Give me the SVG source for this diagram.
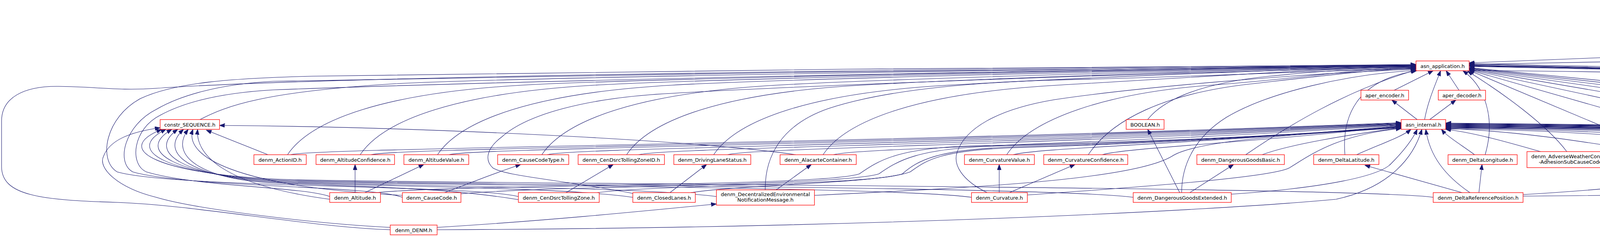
<svg xmlns="http://www.w3.org/2000/svg" width="7681" height="604" viewBox="0 0 7681 604">
<defs>
<marker id="a" markerWidth="14" markerHeight="11" refX="13.5" refY="5" orient="auto" markerUnits="userSpaceOnUse"><path d="M0,0 L13.5,5 L0,10 Z" fill="#191970" stroke="#191970" stroke-width="1"/></marker>
</defs>
<style>
.e path{fill:none;stroke:#191970;stroke-width:1.1;marker-end:url(#a)}
.n rect{fill:#fff;stroke:#ff0000;stroke-width:1.3}
.k rect{fill:#fff;stroke:#333;stroke-width:1.3}
.g rect{fill:#bfbfbf;stroke:#000;stroke-width:1.3}
text{font-family:"DejaVu Sans","Liberation Sans",sans-serif;font-size:13px;text-anchor:middle;fill:#000}
</style>
<rect width="7681" height="604" fill="#fff"/>
<g id="edges" class="e">
<path d="M7342,81 L7342,31"/>
<path d="M7614,396 C7580,340 7557,300 7557,250 L7557,170 C7557,100 7480,60 7398,33"/>
<path d="M7342,396 L7342,106"/>
<path d="M7485,396 L7351,106"/>
<path d="M3761,165 L7285,97"/>
<path d="M7289,22 L3761,161"/>
<path d="M3569,231 L3669,181"/>
<path d="M3735,231 L3702,181"/>
<path d="M3628,306 L3563,256"/>
<path d="M3660,306 L3727,256"/>
<path d="M3647,306 C3655,260 3675,215 3688,181"/>
<path d="M5802,240 C5400,215 4400,185 3761,166"/>
<path d="M6056,238 C5650,210 4500,183 3761,164"/>
<path d="M6227,238 C5850,208 4600,180 3761,163"/>
<path d="M5889,306 L5872,256"/>
<path d="M5909,306 C5955,285 5965,240 5900,228 C5500,205 4500,186 3761,167"/>
<path d="M6203,396 L5952,331"/>
<path d="M512,306 C580,270 680,235 1000,215 S3400,168 3625,166"/>
<path d="M736,396 C796,306 986,238 1336,218 S3400,169 3625,167"/>
<path d="M922,396 C982,306 1172,238 1522,218 S3400,170 3625,168"/>
<path d="M1120,396 C1180,306 1370,238 1720,218 S3400,171 3625,169"/>
<path d="M1387,396 C1447,306 1637,238 1987,218 S3400,172 3625,170"/>
<path d="M1604,396 C1664,306 1854,238 2204,218 S3400,172 3625,170"/>
<path d="M1827,396 C1887,306 2077,238 2427,218 S3400,173 3625,171"/>
<path d="M2107,396 C2167,306 2357,238 2707,218 S3400,174 3625,172"/>
<path d="M2577,396 C2637,306 2827,238 3100,218 S3450,176 3625,173"/>
<path d="M2786,396 C2846,306 2980,240 3200,215 S3500,180 3625,174"/>
<path d="M2938,306 C2970,265 3050,215 3250,195 S3500,178 3625,175"/>
<path d="M3189,396 C3300,320 3450,230 3625,179"/>
<path d="M3443,396 C3435,300 3470,205 3627,181"/>
<path d="M1620,495 C1450,462 1300,452 1262,430 C1240,410 1245,380 1285,350 C1350,292 1500,252 1700,240 C2000,222 2800,190 3625,172"/>
<path d="M1959,486 C1958,400 2000,320 2120,278 C2250,235 2450,212 2700,205 C3100,195 3400,180 3625,176"/>
<path d="M2527,493 C2460,460 2440,420 2450,390 C2470,330 2550,280 2700,255 C2900,225 3300,190 3625,177"/>
<path d="M3025,493 C3025,420 3060,350 3140,300 C3250,235 3450,190 3625,180"/>
<path d="M844,503 C780,478 500,478 375,440 C330,420 340,330 410,295 C470,262 560,238 700,230 C1500,200 3000,175 3625,168"/>
<path d="M1030,505 C950,474 480,480 340,440 C295,415 320,320 400,280 C460,245 560,215 700,208 C1500,190 3000,172 3625,167"/>
<path d="M1327,503 C1200,472 450,482 300,440 C250,410 270,300 360,252 C450,210 600,200 800,195 C1500,180 3000,170 3625,166"/>
<path d="M999,588 C800,582 500,525 300,518 C100,512 4,500 4,426 L4,310 C4,250 60,220 150,221 C250,222 300,233 400,226 C700,205 1500,185 3625,165"/>
<path d="M999,582 C800,572 500,535 400,505 C300,480 250,430 265,400 C280,360 330,338 410,327"/>
<path d="M844,510 C560,472 500,390 506,331"/>
<path d="M1030,500 C600,478 470,400 494,331"/>
<path d="M1327,511 C1127,478 900,478 700,468 C520,460 430,400 482,331"/>
<path d="M1620,505 C1420,476 900,478 700,466 C500,456 400,395 470,331"/>
<path d="M1834,503 C1634,476 900,476 700,464 C480,452 370,392 455,331"/>
<path d="M2487,505 C2287,476 900,474 700,462 C460,448 340,390 440,331"/>
<path d="M2901,505 C2701,476 900,472 700,460 C440,446 310,388 425,331"/>
<path d="M3669,505 C3469,476 900,470 700,458 C420,444 280,386 414,331"/>
<path d="M686,396 L528,333"/>
<path d="M2037,396 C1800,360 1100,325 562,321"/>
<path d="M909,493 L909,421"/>
<path d="M934,493 L1085,421"/>
<path d="M1138,493 C1200,470 1260,445 1333,421"/>
<path d="M1449,493 L1570,421"/>
<path d="M1715,493 L1809,421"/>
<path d="M1987,486 L2077,421"/>
<path d="M2558,493 L2558,421"/>
<path d="M2584,493 L2752,421"/>
<path d="M3046,493 L3158,421"/>
<path d="M3020,493 L2938,331"/>
<path d="M3743,493 L3494,423"/>
<path d="M3786,493 L3794,421"/>
<path d="M3899,498 C4200,480 4450,450 4495,421"/>
<path d="M3763,493 C3700,450 3660,400 3650,331"/>
<path d="M3775,396 C3740,370 3705,350 3690,331"/>
<path d="M3473,396 C3530,370 3590,350 3612,331"/>
<path d="M3231,396 C3300,370 3450,345 3587,327"/>
<path d="M3802,396 C3830,300 3800,220 3745,181"/>
<path d="M3899,502 C4800,495 5600,470 6060,445 C6130,430 6125,385 6060,374 C5950,368 5830,370 5790,330 C5760,290 5770,240 5700,225 C5000,200 4300,185 3761,180"/>
<path d="M1118,582 C1400,565 1650,540 1834,522"/>
<path d="M1118,588 C2200,584 3100,540 3420,510 C3560,480 3620,400 3640,331"/>
<path d="M964,493 C1200,470 2100,478 2200,445 C2250,410 2300,378 2500,373 C2900,366 3350,345 3587,323"/>
<path d="M1180,496 C1400,475 2150,476 2250,445 C2300,410 2350,380 2550,374 C2950,366 3350,344 3587,324"/>
<path d="M1529,493 C1700,472 2220,474 2310,445 C2350,410 2400,382 2600,376 C3000,366 3350,343 3587,325"/>
<path d="M1768,493 C1900,472 2250,470 2330,440 C2370,412 2400,385 2600,378 C3000,366 3350,342 3587,326"/>
<path d="M2085,500 C2500,480 2900,460 3000,400 C3060,360 3300,345 3587,327"/>
<path d="M2630,499 C2900,480 3250,455 3300,430 C3350,400 3420,345 3587,329"/>
<path d="M3152,497 C3400,480 3530,450 3560,420 C3590,390 3615,360 3628,331"/>
<path d="M744,396 C804,378 2165,370 3587,314"/>
<path d="M950,396 C1010,378 2268,370 3587,315"/>
<path d="M1150,396 C1210,378 2368,370 3587,316"/>
<path d="M1401,396 C1461,378 2494,370 3587,317"/>
<path d="M1635,396 C1695,378 2611,370 3587,318"/>
<path d="M1863,396 C1923,378 2725,370 3587,319"/>
<path d="M2134,396 C2194,378 2860,370 3587,320"/>
<path d="M2594,396 C2654,378 3090,368 3587,321"/>
<path d="M2822,396 C2882,378 3204,366 3587,322"/>
<path d="M4011,388 C3960,320 3850,240 3757,182"/>
<path d="M4240,381 L3761,180"/>
<path d="M4521,396 L3761,179"/>
<path d="M4738,388 L3761,178"/>
<path d="M4996,388 L3761,177"/>
<path d="M5248,388 L3761,176"/>
<path d="M5482,388 L3761,175"/>
<path d="M5716,388 L3761,174"/>
<path d="M5958,388 L3761,173"/>
<path d="M6407,396 C6250,320 6050,240 5800,222 C5300,205 4400,180 3761,170"/>
<path d="M6626,396 C6560,320 6450,250 6200,225 C5500,200 4400,180 3761,169"/>
<path d="M6871,396 C6750,320 6550,245 6200,220 C5500,200 4400,180 3761,168"/>
<path d="M7111,396 C6900,330 6600,240 6200,215 C5500,198 4400,178 3761,167"/>
<path d="M3944,388 C3880,370 3780,340 3701,331"/>
<path d="M4169,381 C4050,362 3880,335 3701,329"/>
<path d="M4502,396 C4420,365 4050,332 3701,330"/>
<path d="M4676,388 C4476,360 4091,330 3701,328"/>
<path d="M4933,388 C4733,360 4194,330 3701,327"/>
<path d="M5189,388 C4989,360 4296,330 3701,326"/>
<path d="M5430,388 C5230,360 4393,330 3701,325"/>
<path d="M5659,388 C5459,360 4484,330 3701,324"/>
<path d="M5903,388 C5703,360 4582,330 3701,323"/>
<path d="M6193,396 C5993,368 4698,330 3701,322"/>
<path d="M6384,396 C6184,368 4774,330 3701,321"/>
<path d="M6604,396 C6404,368 4862,330 3701,320"/>
<path d="M6851,396 C6651,368 4961,330 3701,319"/>
<path d="M7089,396 C6889,368 5056,330 3701,318"/>
<path d="M7314,396 C7114,368 5146,330 3701,317"/>
<path d="M7467,396 C7267,368 5207,330 3701,316"/>
<path d="M7600,396 C7400,368 5260,330 3701,315"/>
</g>
<g id="n_constraints_h" class="g"><rect x="7289" y="6" width="107" height="25"/><text x="7342.5" y="23.5">constraints.h</text></g>
<g id="n_constr_TYPE_h" class="k"><rect x="7285" y="81" width="114" height="25"/><text x="7342" y="98.5">constr_TYPE.h</text></g>
<g id="n_asn_application_h" class="n"><rect x="3625" y="156" width="136" height="25"/><text x="3693" y="173.5">asn_application.h</text></g>
<g id="n_aper_encoder_h" class="n"><rect x="3484" y="231" width="122" height="25"/><text x="3545" y="248.5">aper_encoder.h</text></g>
<g id="n_aper_decoder_h" class="n"><rect x="3682" y="231" width="121" height="25"/><text x="3742.5" y="248.5">aper_decoder.h</text></g>
<g id="n_constr_SET_OF_h" class="n"><rect x="5802" y="231" width="128" height="25"/><text x="5866" y="248.5">constr_SET_OF.h</text></g>
<g id="n_asn_codecs_prim_h" class="n"><rect x="6056" y="231" width="146" height="25"/><text x="6129" y="248.5">asn_codecs_prim.h</text></g>
<g id="n_constr_CHOICE_h" class="n"><rect x="6227" y="231" width="130" height="25"/><text x="6292" y="248.5">constr_CHOICE.h</text></g>
<g id="n_constr_SEQUENCE_h" class="n"><rect x="410" y="306" width="152" height="25"/><text x="486" y="323.5">constr_SEQUENCE.h</text></g>
<g id="n_BOOLEAN_h" class="n"><rect x="2883" y="306" width="97" height="25"/><text x="2931.5" y="323.5">BOOLEAN.h</text></g>
<g id="n_asn_internal_h" class="n"><rect x="3587" y="306" width="114" height="25"/><text x="3644" y="323.5">asn_internal.h</text></g>
<g id="n_constr_SEQUENCE_OF_h" class="n"><rect x="5806" y="306" width="174" height="25"/><text x="5893" y="323.5">constr_SEQUENCE_OF.h</text></g>
<g id="n_ActionID" class="n"><rect x="650" y="396" width="134" height="25"/><text x="717" y="413.5">denm_ActionID.h</text></g>
<g id="n_AltitudeConfidence" class="n"><rect x="809" y="396" width="201" height="25"/><text x="909.5" y="413.5">denm_AltitudeConfidence.h</text></g>
<g id="n_AltitudeValue" class="n"><rect x="1034" y="396" width="166" height="25"/><text x="1117" y="413.5">denm_AltitudeValue.h</text></g>
<g id="n_CauseCodeType" class="n"><rect x="1274" y="396" width="182" height="25"/><text x="1365" y="413.5">denm_CauseCodeType.h</text></g>
<g id="n_CenDsrcTollingZoneID" class="n"><rect x="1480" y="396" width="221" height="25"/><text x="1590.5" y="413.5">denm_CenDsrcTollingZoneID.h</text></g>
<g id="n_DrivingLaneStatus" class="n"><rect x="1725" y="396" width="197" height="25"/><text x="1823.5" y="413.5">denm_DrivingLaneStatus.h</text></g>
<g id="n_AlacarteContainer" class="n"><rect x="1997" y="396" width="195" height="25"/><text x="2094.5" y="413.5">denm_AlacarteContainer.h</text></g>
<g id="n_CurvatureValue" class="n"><rect x="2469" y="396" width="179" height="25"/><text x="2558.5" y="413.5">denm_CurvatureValue.h</text></g>
<g id="n_CurvatureConfidence" class="n"><rect x="2672" y="396" width="215" height="25"/><text x="2779.5" y="413.5">denm_CurvatureConfidence.h</text></g>
<g id="n_DangerousGoodsBasic" class="n"><rect x="3064" y="396" width="224" height="25"/><text x="3176" y="413.5">denm_DangerousGoodsBasic.h</text></g>
<g id="n_DeltaLatitude" class="n"><rect x="3363" y="396" width="167" height="25"/><text x="3446.5" y="413.5">denm_DeltaLatitude.h</text></g>
<g id="n_DeltaLongitude" class="n"><rect x="3707" y="396" width="177" height="25"/><text x="3795.5" y="413.5">denm_DeltaLongitude.h</text></g>
<g id="n_AWC_Adhesion" class="n"><rect x="3909" y="388" width="235" height="41"/><text x="4026.5" y="404.5">denm_AdverseWeatherCondition</text><text x="4026.5" y="419">-AdhesionSubCauseCode.h</text></g>
<g id="n_AWC_Extreme" class="n"><rect x="4169" y="381" width="262" height="55"/><text x="4300" y="397">denm_AdverseWeatherCondition</text><text x="4300" y="411.5">-ExtremeWeatherConditionSubCause</text><text x="4300" y="426">Code.h</text></g>
<g id="n_DeltaAltitude" class="n"><rect x="4455" y="396" width="164" height="25"/><text x="4537" y="413.5">denm_DeltaAltitude.h</text></g>
<g id="n_AWC_Precipitation" class="n"><rect x="4644" y="388" width="234" height="41"/><text x="4761" y="404.5">denm_AdverseWeatherCondition</text><text x="4761" y="419">-PrecipitationSubCauseCode.h</text></g>
<g id="n_AWC_Visibility" class="n"><rect x="4902" y="388" width="235" height="41"/><text x="5019.5" y="404.5">denm_AdverseWeatherCondition</text><text x="5019.5" y="419">-VisibilitySubCauseCode.h</text></g>
<g id="n_CollisionRisk" class="n"><rect x="5162" y="388" width="214" height="41"/><text x="5269" y="404.5">denm_CollisionRiskSubCause</text><text x="5269" y="419">Code.h</text></g>
<g id="n_CurvatureCalculationMode" class="n"><rect x="5401" y="388" width="203" height="41"/><text x="5502.5" y="404.5">denm_CurvatureCalculation</text><text x="5502.5" y="419">Mode.h</text></g>
<g id="n_DangerousEndOfQueue" class="n"><rect x="5629" y="388" width="217" height="41"/><text x="5737.5" y="404.5">denm_DangerousEndOfQueue</text><text x="5737.5" y="419">SubCauseCode.h</text></g>
<g id="n_DangerousSituation" class="n"><rect x="5871" y="388" width="218" height="41"/><text x="5980" y="404.5">denm_DangerousSituationSub</text><text x="5980" y="419">CauseCode.h</text></g>
<g id="n_DigitalMap" class="n"><rect x="6164" y="396" width="149" height="25"/><text x="6238.5" y="413.5">denm_DigitalMap.h</text></g>
<g id="n_DriveDirection" class="n"><rect x="6338" y="396" width="172" height="25"/><text x="6424" y="413.5">denm_DriveDirection.h</text></g>
<g id="n_AccelerationConfidence" class="n"><rect x="6534" y="396" width="230" height="25"/><text x="6649" y="413.5">denm_AccelerationConfidence.h</text></g>
<g id="n_AccelerationControl" class="n"><rect x="6789" y="396" width="206" height="25"/><text x="6892" y="413.5">denm_AccelerationControl.h</text></g>
<g id="n_AccidentSubCauseCode" class="n"><rect x="7019" y="396" width="230" height="25"/><text x="7134" y="413.5">denm_AccidentSubCauseCode.h</text></g>
<g id="n_asn_random_fill_c" class="k"><rect x="7274" y="396" width="136" height="25"/><text x="7342" y="413.5">asn_random_fill.c</text></g>
<g id="n_constr_TYPE_c" class="k"><rect x="7434" y="396" width="112" height="25"/><text x="7490" y="413.5">constr_TYPE.c</text></g>
<g id="n_constraints_c" class="k"><rect x="7569" y="396" width="106" height="25"/><text x="7622" y="413.5">constraints.c</text></g>
<g id="n_Altitude" class="n"><rect x="844" y="493" width="130" height="25"/><text x="909" y="510.5">denm_Altitude.h</text></g>
<g id="n_CauseCode" class="n"><rect x="1030" y="493" width="150" height="25"/><text x="1105" y="510.5">denm_CauseCode.h</text></g>
<g id="n_CenDsrcTollingZone" class="n"><rect x="1327" y="493" width="207" height="25"/><text x="1430.5" y="510.5">denm_CenDsrcTollingZone.h</text></g>
<g id="n_ClosedLanes" class="n"><rect x="1620" y="493" width="160" height="25"/><text x="1700" y="510.5">denm_ClosedLanes.h</text></g>
<g id="n_DENMessage" class="n"><rect x="1834" y="486" width="251" height="39"/><text x="1959.5" y="502">denm_DecentralizedEnvironmental</text><text x="1959.5" y="516">NotificationMessage.h</text></g>
<g id="n_Curvature" class="n"><rect x="2487" y="493" width="143" height="25"/><text x="2558.5" y="510.5">denm_Curvature.h</text></g>
<g id="n_DangerousGoodsExtended" class="n"><rect x="2901" y="493" width="251" height="25"/><text x="3026.5" y="510.5">denm_DangerousGoodsExtended.h</text></g>
<g id="n_DeltaReferencePosition" class="n"><rect x="3669" y="493" width="230" height="25"/><text x="3784" y="510.5">denm_DeltaReferencePosition.h</text></g>
<g id="n_DENM" class="n"><rect x="999" y="576" width="120" height="25"/><text x="1059" y="593.5">denm_DENM.h</text></g>
</svg>
